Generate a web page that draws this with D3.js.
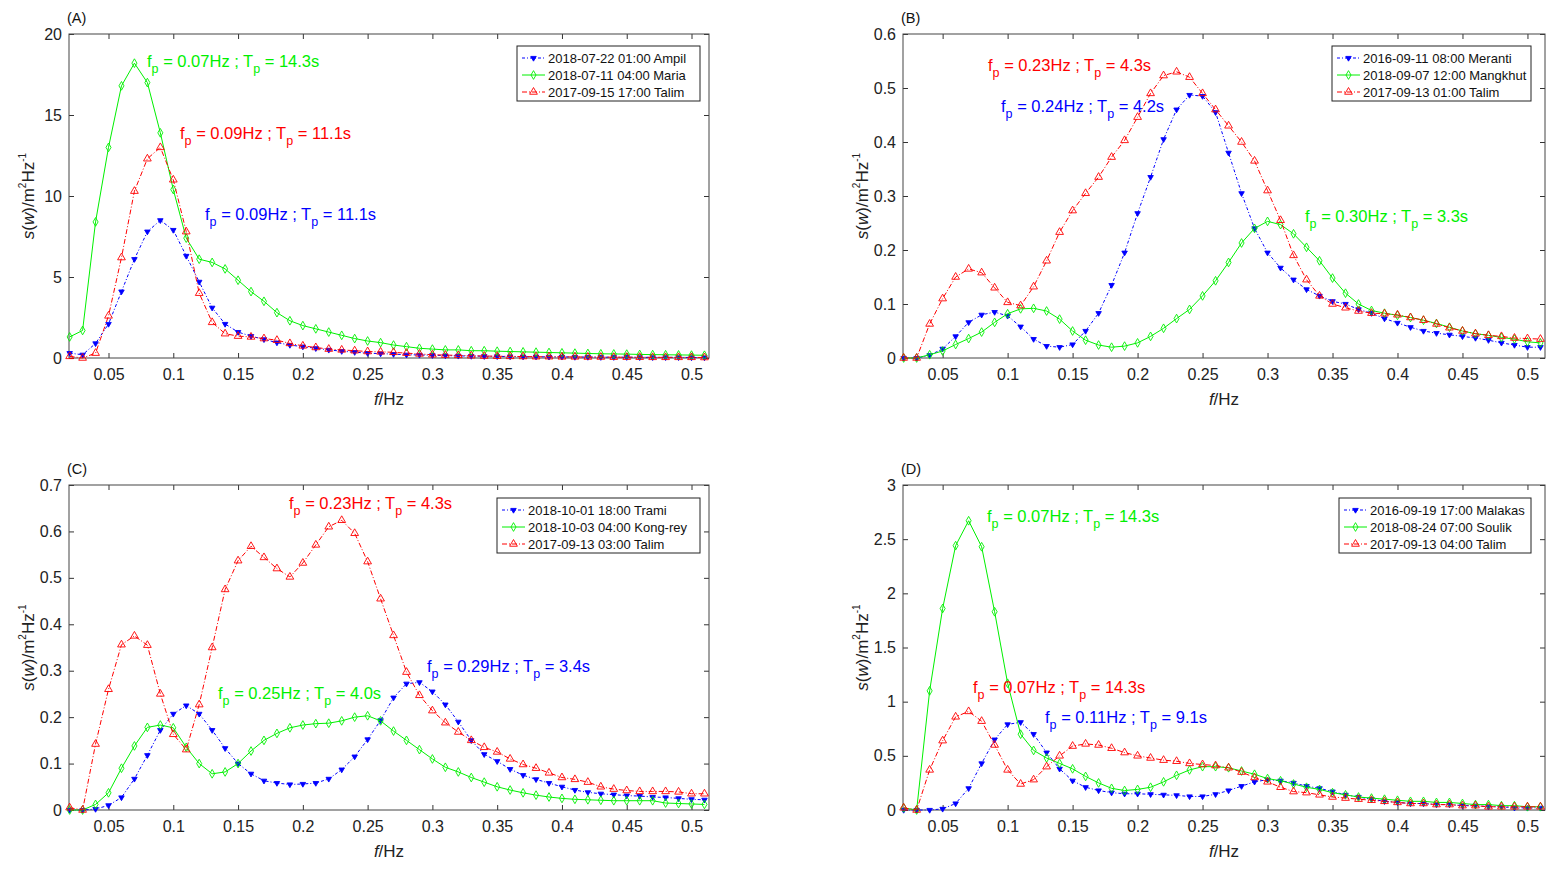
<!DOCTYPE html>
<html>
<head>
<meta charset="utf-8">
<script src="https://cdn.jsdelivr.net/npm/d3@7"></script>
<style>
  body { margin: 0; background: #fff; }
  svg { font-family: "Liberation Sans", Arial, sans-serif; }
</style>
</head>
<body>
<svg id="fig" width="1559" height="870"></svg>
<script>
// frequencies (Hz)
const freq = [0.02, 0.03, 0.04, 0.05, 0.06, 0.07, 0.08, 0.09, 0.10, 0.11,
  0.12, 0.13, 0.14, 0.15, 0.16, 0.17, 0.18, 0.19, 0.20, 0.21,
  0.22, 0.23, 0.24, 0.25, 0.26, 0.27, 0.28, 0.29, 0.30, 0.31,
  0.32, 0.33, 0.34, 0.35, 0.36, 0.37, 0.38, 0.39, 0.40, 0.41,
  0.42, 0.43, 0.44, 0.45, 0.46, 0.47, 0.48, 0.49, 0.50, 0.51];
const xTicks = [0.05, 0.1, 0.15, 0.2, 0.25, 0.3, 0.35, 0.4, 0.45, 0.5];

// (A)
const aAmpil = [0.3, 0.2, 0.9, 2.1, 4.1, 6.1, 7.8, 8.5, 7.9, 6.3,
  4.7, 3.1, 2.1, 1.6, 1.35, 1.15, 0.95, 0.8, 0.7, 0.6,
  0.5, 0.42, 0.36, 0.3, 0.27, 0.24, 0.2, 0.19, 0.17, 0.15,
  0.13, 0.12, 0.11, 0.1, 0.09, 0.08, 0.08, 0.07, 0.07, 0.06,
  0.06, 0.05, 0.05, 0.05, 0.04, 0.04, 0.04, 0.04, 0.03, 0.03];
const aMaria = [1.3, 1.7, 8.4, 13.0, 16.8, 18.2, 17.0, 13.9, 10.4, 7.4,
  6.1, 5.9, 5.5, 4.8, 4.1, 3.5, 2.8, 2.3, 2.0, 1.8,
  1.6, 1.4, 1.2, 1.05, 0.95, 0.8, 0.7, 0.6, 0.55, 0.5,
  0.5, 0.45, 0.45, 0.42, 0.4, 0.38, 0.36, 0.34, 0.32, 0.3,
  0.28, 0.26, 0.25, 0.24, 0.22, 0.21, 0.2, 0.19, 0.18, 0.17];
const aTalim = [0.1, 0.0, 0.3, 2.6, 6.2, 10.3, 12.3, 13.0, 11.0, 7.8,
  4.0, 2.2, 1.5, 1.35, 1.3, 1.2, 1.1, 0.9, 0.75, 0.65,
  0.55, 0.5, 0.45, 0.4, 0.38, 0.35, 0.3, 0.25, 0.2, 0.18,
  0.16, 0.14, 0.12, 0.11, 0.1, 0.09, 0.08, 0.08, 0.07, 0.07,
  0.06, 0.06, 0.05, 0.05, 0.05, 0.04, 0.04, 0.04, 0.04, 0.03];

// (B)
const bMeranti = [0, 0, 0.005, 0.017, 0.04, 0.066, 0.08, 0.085, 0.078, 0.058,
  0.035, 0.022, 0.02, 0.025, 0.05, 0.083, 0.135, 0.195, 0.268, 0.335,
  0.405, 0.46, 0.487, 0.485, 0.455, 0.38, 0.305, 0.24, 0.195, 0.167,
  0.145, 0.127, 0.115, 0.105, 0.1, 0.09, 0.083, 0.073, 0.065, 0.057,
  0.05, 0.046, 0.043, 0.04, 0.037, 0.033, 0.028, 0.024, 0.02, 0.02];
const bMangkhut = [0, 0, 0.006, 0.013, 0.025, 0.036, 0.048, 0.066, 0.082, 0.091,
  0.092, 0.087, 0.072, 0.05, 0.033, 0.024, 0.02, 0.022, 0.028, 0.04,
  0.055, 0.073, 0.09, 0.115, 0.143, 0.177, 0.213, 0.24, 0.253, 0.247,
  0.23, 0.205, 0.18, 0.148, 0.12, 0.1, 0.088, 0.083, 0.079, 0.075,
  0.07, 0.064, 0.057, 0.05, 0.045, 0.042, 0.038, 0.035, 0.03, 0.028];
const bTalim = [0, 0, 0.063, 0.11, 0.15, 0.165, 0.158, 0.13, 0.103, 0.097,
  0.132, 0.18, 0.233, 0.273, 0.305, 0.335, 0.372, 0.403, 0.446, 0.49,
  0.523, 0.53, 0.52, 0.49, 0.46, 0.43, 0.40, 0.365, 0.31, 0.255,
  0.19, 0.145, 0.115, 0.10, 0.093, 0.087, 0.083, 0.082, 0.08, 0.075,
  0.07, 0.063, 0.056, 0.05, 0.045, 0.042, 0.04, 0.037, 0.036, 0.035];

// (C)
const cTrami = [0, 0, 0.002, 0.01, 0.027, 0.067, 0.118, 0.172, 0.207, 0.225,
  0.207, 0.172, 0.133, 0.1, 0.078, 0.063, 0.058, 0.055, 0.056, 0.058,
  0.067, 0.087, 0.115, 0.152, 0.193, 0.242, 0.272, 0.275, 0.255, 0.227,
  0.19, 0.15, 0.12, 0.105, 0.088, 0.075, 0.066, 0.058, 0.05, 0.043,
  0.038, 0.035, 0.033, 0.031, 0.03, 0.028, 0.027, 0.025, 0.023, 0.022];
const cKongrey = [0, 0, 0.012, 0.037, 0.09, 0.138, 0.178, 0.183, 0.177, 0.135,
  0.1, 0.078, 0.082, 0.1, 0.127, 0.15, 0.165, 0.177, 0.183, 0.186,
  0.187, 0.192, 0.2, 0.203, 0.192, 0.17, 0.15, 0.13, 0.11, 0.092,
  0.082, 0.07, 0.06, 0.05, 0.043, 0.037, 0.032, 0.028, 0.025, 0.023,
  0.022, 0.021, 0.02, 0.02, 0.02, 0.02, 0.015, 0.014, 0.013, 0.012];
const cTalim = [0.005, 0, 0.142, 0.26, 0.356, 0.375, 0.355, 0.25, 0.163, 0.13,
  0.227, 0.35, 0.475, 0.537, 0.568, 0.544, 0.52, 0.502, 0.532, 0.571,
  0.61, 0.624, 0.596, 0.535, 0.455, 0.376, 0.297, 0.247, 0.214, 0.188,
  0.168, 0.15, 0.135, 0.125, 0.11, 0.098, 0.09, 0.08, 0.07, 0.066,
  0.06, 0.05, 0.045, 0.042, 0.04, 0.04, 0.04, 0.039, 0.035, 0.035];

// (D)
const dMalakas = [0, 0, 0, 0.01, 0.06, 0.2, 0.43, 0.65, 0.79, 0.81,
  0.7, 0.53, 0.38, 0.27, 0.21, 0.18, 0.16, 0.15, 0.15, 0.145,
  0.14, 0.135, 0.125, 0.125, 0.145, 0.18, 0.22, 0.26, 0.28, 0.27,
  0.25, 0.22, 0.2, 0.17, 0.14, 0.12, 0.1, 0.08, 0.07, 0.06,
  0.06, 0.05, 0.05, 0.04, 0.04, 0.03, 0.03, 0.02, 0.02, 0.02];
const dSoulik = [0.02, 0, 1.1, 1.86, 2.44, 2.67, 2.43, 1.83, 1.17, 0.7,
  0.55, 0.48, 0.43, 0.38, 0.31, 0.25, 0.2, 0.18, 0.19, 0.21,
  0.26, 0.32, 0.37, 0.4, 0.4, 0.39, 0.36, 0.33, 0.29, 0.27,
  0.24, 0.21, 0.19, 0.16, 0.14, 0.12, 0.11, 0.1, 0.09, 0.08,
  0.08, 0.07, 0.07, 0.06, 0.05, 0.05, 0.04, 0.04, 0.03, 0.03];
const dTalim = [0.02, 0, 0.37, 0.64, 0.86, 0.91, 0.82, 0.6, 0.37, 0.24,
  0.28, 0.4, 0.5, 0.59, 0.61, 0.6, 0.57, 0.53, 0.5, 0.48,
  0.46, 0.45, 0.43, 0.42, 0.41, 0.39, 0.35, 0.3, 0.26, 0.21,
  0.17, 0.16, 0.14, 0.12, 0.11, 0.1, 0.09, 0.08, 0.07, 0.06,
  0.06, 0.05, 0.05, 0.04, 0.04, 0.03, 0.03, 0.03, 0.03, 0.03];

const legendA = ["2018-07-22 01:00 Ampil", "2018-07-11 04:00 Maria", "2017-09-15 17:00 Talim"];
const legendB = ["2016-09-11 08:00 Meranti", "2018-09-07 12:00 Mangkhut", "2017-09-13 01:00 Talim"];
const legendC = ["2018-10-01 18:00 Trami", "2018-10-03 04:00 Kong-rey", " 2017-09-13 03:00 Talim"];
const legendD = ["2016-09-19 17:00 Malakas", "2018-08-24 07:00 Soulik", "2017-09-13 04:00 Talim"];

const BLUE = "#0000ff", GREEN = "#00f000", RED = "#ff0000";
const styles = [
  { color: BLUE, dash: "3,2,1,2", marker: "down" },
  { color: GREEN, dash: null, marker: "diamond" },
  { color: RED, dash: "5,2,1,2", marker: "up" }
];

const svg = d3.select("#fig");

function drawPanel(cfg) {
  const { left, right, top, bottom } = cfg.box;
  const x = d3.scaleLinear().domain([0.0195, 0.5135]).range([left, right]);
  const y = d3.scaleLinear().domain([0, cfg.yMax]).range([bottom, top]);
  const g = svg.append("g");
  const fmt = d => String(+d.toFixed(2));

  // axes, ticks inward on all four sides
  g.append("g").attr("transform", `translate(0,${bottom})`)
    .call(d3.axisBottom(x).tickValues(xTicks).tickSizeInner(-5).tickSizeOuter(0).tickPadding(11).tickFormat(fmt));
  g.append("g").attr("transform", `translate(0,${top})`)
    .call(d3.axisTop(x).tickValues(xTicks).tickSizeInner(-5).tickSizeOuter(0).tickFormat(""));
  g.append("g").attr("transform", `translate(${left},0)`)
    .call(d3.axisLeft(y).tickValues(cfg.yTicks).tickSizeInner(-5).tickSizeOuter(0).tickPadding(7).tickFormat(fmt));
  g.append("g").attr("transform", `translate(${right},0)`)
    .call(d3.axisRight(y).tickValues(cfg.yTicks).tickSizeInner(-5).tickSizeOuter(0).tickFormat(""));
  g.selectAll(".domain").remove();
  g.selectAll(".tick line").attr("stroke", "#333");
  g.selectAll(".tick text").attr("font-size", 16).attr("fill", "#222")
    .attr("font-family", "Liberation Sans, Arial, sans-serif");
  g.append("rect").attr("x", left).attr("y", top)
    .attr("width", right - left).attr("height", bottom - top)
    .attr("fill", "none").attr("stroke", "#444").attr("stroke-width", 1);

  // series
  const line = d3.line().x((d, i) => x(freq[i])).y(d => y(d));
  const sym = {
    down: d3.symbol().type(d3.symbolTriangle).size(13),
    diamond: d3.symbol().type(d3.symbolDiamond).size(22),
    up: d3.symbol().type(d3.symbolTriangle).size(26)
  };
  cfg.series.forEach((vals, k) => {
    const st = styles[k];
    g.append("path").datum(vals).attr("d", line)
      .attr("fill", "none").attr("stroke", st.color).attr("stroke-width", 1)
      .attr("stroke-dasharray", st.dash);
    g.selectAll(null).data(vals).join("path")
      .attr("d", sym[st.marker])
      .attr("transform", (d, i) => `translate(${x(freq[i])},${y(d)})` + (st.marker === "down" ? " rotate(180)" : ""))
      .attr("fill", st.marker === "down" ? st.color : "none")
      .attr("stroke", st.color).attr("stroke-width", 0.9);
  });

  // panel tag
  g.append("text").attr("x", left - 2).attr("y", top - 11)
    .attr("font-size", 14.5).attr("fill", "#111").text(cfg.tag);

  // axis labels
  const xl = g.append("text").attr("x", (left + right) / 2).attr("y", bottom + 47)
    .attr("text-anchor", "middle").attr("font-size", 17).attr("fill", "#222");
  xl.append("tspan").attr("font-style", "italic").text("f");
  xl.append("tspan").text("/Hz");

  const yl = g.append("text")
    .attr("transform", `translate(${left - 35},${(top + bottom) / 2}) rotate(-90)`)
    .attr("text-anchor", "middle").attr("font-size", 17).attr("fill", "#222");
  yl.append("tspan").attr("font-style", "italic").text("s");
  yl.append("tspan").text("(");
  yl.append("tspan").attr("font-style", "italic").text("w");
  yl.append("tspan").text(")/m");
  yl.append("tspan").attr("font-size", 10).attr("dy", -8).text("2");
  yl.append("tspan").attr("dy", 8).text("Hz");
  yl.append("tspan").attr("font-size", 10).attr("dy", -8).text("-1");

  // peak annotations
  cfg.notes.forEach(n => {
    const t = g.append("text").attr("x", n.x).attr("y", n.y)
      .attr("font-size", 16.5).attr("fill", styles[n.k].color);
    t.append("tspan").text("f");
    t.append("tspan").attr("font-size", 12.5).attr("dy", 6).text("p");
    t.append("tspan").attr("dy", -6).text(` = ${n.f}Hz ; T`);
    t.append("tspan").attr("font-size", 12.5).attr("dy", 6).text("p");
    t.append("tspan").attr("dy", -6).text(` = ${n.t}s`);
  });

  // legend
  const lg = g.append("g").attr("transform", `translate(${cfg.legend.x},${cfg.legend.y})`);
  lg.append("rect").attr("width", cfg.legend.w).attr("height", 55)
    .attr("fill", "#fff").attr("stroke", "#222").attr("stroke-width", 1);
  cfg.labels.forEach((lab, k) => {
    const st = styles[k];
    const yy = 12 + k * 17;
    lg.append("line").attr("x1", 5).attr("x2", 28).attr("y1", yy).attr("y2", yy)
      .attr("stroke", st.color).attr("stroke-width", 1).attr("stroke-dasharray", st.dash);
    lg.append("path").attr("d", sym[st.marker])
      .attr("transform", `translate(16.5,${yy})` + (st.marker === "down" ? " rotate(180)" : ""))
      .attr("fill", st.marker === "down" ? st.color : "none")
      .attr("stroke", st.color).attr("stroke-width", 0.9);
    lg.append("text").attr("x", 31).attr("y", yy + 4.5)
      .attr("font-size", 13).attr("fill", "#111").text(lab);
  });
}

drawPanel({
  tag: "(A)", box: { left: 69, right: 709, top: 34, bottom: 358 },
  yMax: 20, yTicks: [0, 5, 10, 15, 20],
  series: [aAmpil, aMaria, aTalim], labels: legendA,
  legend: { x: 517, y: 46, w: 183 },
  notes: [
    { k: 1, x: 147, y: 67, f: "0.07", t: "14.3" },
    { k: 2, x: 180, y: 139, f: "0.09", t: "11.1" },
    { k: 0, x: 205, y: 220, f: "0.09", t: "11.1" }
  ]
});
drawPanel({
  tag: "(B)", box: { left: 903, right: 1545, top: 34, bottom: 358 },
  yMax: 0.6, yTicks: [0, 0.1, 0.2, 0.3, 0.4, 0.5, 0.6],
  series: [bMeranti, bMangkhut, bTalim], labels: legendB,
  legend: { x: 1332, y: 46, w: 199 },
  notes: [
    { k: 2, x: 988, y: 71, f: "0.23", t: "4.3" },
    { k: 0, x: 1001, y: 112, f: "0.24", t: "4.2" },
    { k: 1, x: 1305, y: 222, f: "0.30", t: "3.3" }
  ]
});
drawPanel({
  tag: "(C)", box: { left: 69, right: 709, top: 485, bottom: 810 },
  yMax: 0.7, yTicks: [0, 0.1, 0.2, 0.3, 0.4, 0.5, 0.6, 0.7],
  series: [cTrami, cKongrey, cTalim], labels: legendC,
  legend: { x: 497, y: 498, w: 203 },
  notes: [
    { k: 2, x: 289, y: 509, f: "0.23", t: "4.3" },
    { k: 0, x: 427, y: 672, f: "0.29", t: "3.4" },
    { k: 1, x: 218, y: 699, f: "0.25", t: "4.0" }
  ]
});
drawPanel({
  tag: "(D)", box: { left: 903, right: 1545, top: 485, bottom: 810 },
  yMax: 3, yTicks: [0, 0.5, 1, 1.5, 2, 2.5, 3],
  series: [dMalakas, dSoulik, dTalim], labels: legendD,
  legend: { x: 1339, y: 498, w: 192 },
  notes: [
    { k: 1, x: 987, y: 522, f: "0.07", t: "14.3" },
    { k: 2, x: 973, y: 693, f: "0.07", t: "14.3" },
    { k: 0, x: 1045, y: 723, f: "0.11", t: "9.1" }
  ]
});
</script>
</body>
</html>
